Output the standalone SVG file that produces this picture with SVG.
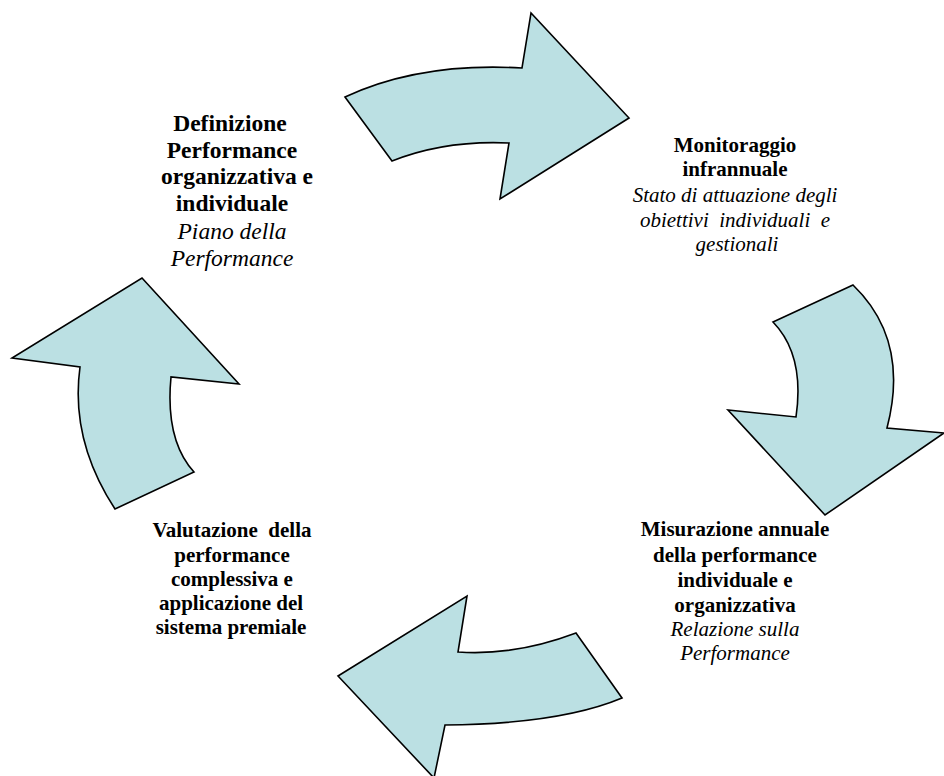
<svg xmlns="http://www.w3.org/2000/svg" width="944" height="776" viewBox="0 0 944 776">
<style>
.arrow{fill:#BBE0E3;stroke:#000;stroke-width:1.6;stroke-linejoin:miter}
.t{font-family:"Liberation Serif","Times New Roman",serif;font-size:21px;fill:#000;text-anchor:middle}
.big{font-size:23.5px}
.b{font-weight:bold}
.i{font-style:italic}
</style>
<rect width="944" height="776" fill="#fff"/>
<g id="connectors">
<path id="arrow-top" class="arrow" d="M345,97 Q420,62 522,68 L531,13 L629,118 L500,199 L509,143 Q445,140 392,161 Z"/>
<path id="arrow-right" class="arrow" d="M773,322 L853,285 Q910,340 887,428 L944,433 L825,515 L728,410 L796,417 Q805,355 773,322 Z"/>
<path id="arrow-bottom" class="arrow" d="M338,676 L467,596 L458,652 Q515,656 576,633 L622,698 Q560,724 445,725 L434,778 Z"/>
<path id="arrow-left" class="arrow" d="M142,278 L239,384 L171,377 Q165,440 194,472 L115,509 Q70,440 80,367 L12,358 Z"/>
</g>
<g id="node-definizione">
<text class="t big b" x="230" y="131">Definizione</text>
<text class="t big b" x="232" y="158">Performance</text>
<text class="t big b" x="237" y="184">organizzativa e</text>
<text class="t big b" x="232" y="211">individuale</text>
<text class="t big i" x="232" y="239">Piano della</text>
<text class="t big i" x="232" y="266">Performance</text>
</g>
<g id="node-monitoraggio">
<text class="t b" x="735" y="152">Monitoraggio</text>
<text class="t b" x="735" y="176">infrannuale</text>
<text class="t i" x="735" y="202">Stato di attuazione degli</text>
<text class="t i" x="735" y="227" xml:space="preserve">obiettivi  individuali  e</text>
<text class="t i" x="737" y="251">gestionali</text>
</g>
<g id="node-misurazione">
<text class="t b" x="735" y="536">Misurazione annuale</text>
<text class="t b" x="735" y="562">della performance</text>
<text class="t b" x="735" y="587">individuale e</text>
<text class="t b" x="735" y="612">organizzativa</text>
<text class="t i" x="735" y="636">Relazione sulla</text>
<text class="t i" x="735" y="660">Performance</text>
</g>
<g id="node-valutazione">
<text class="t b" x="232" y="537" xml:space="preserve">Valutazione  della</text>
<text class="t b" x="232" y="562">performance</text>
<text class="t b" x="232" y="586">complessiva e</text>
<text class="t b" x="231" y="610">applicazione del</text>
<text class="t b" x="231" y="634">sistema premiale</text>
</g>
</svg>
